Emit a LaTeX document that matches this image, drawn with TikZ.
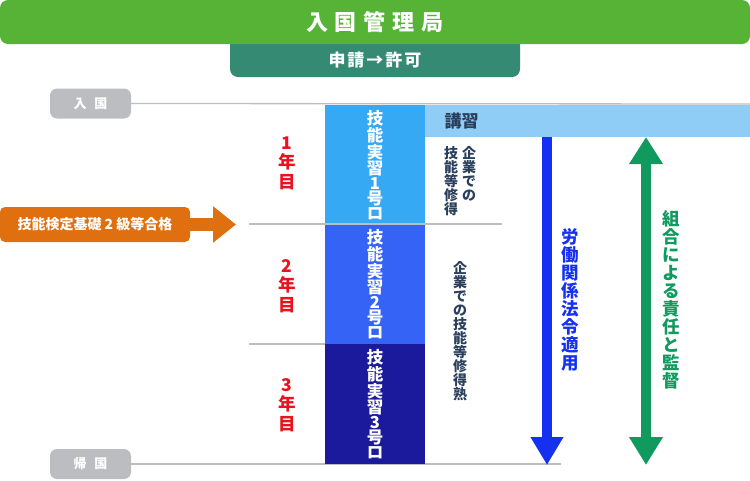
\documentclass[tikz,border=0pt]{standalone}
\usepackage{fontspec}
\setmainfont{Noto Sans CJK JP}
\usetikzlibrary{arrows.meta}
\definecolor{gbar}{HTML}{57B336}
\definecolor{teal}{HTML}{358A73}
\definecolor{pill}{HTML}{BBBDC0}
\definecolor{lc}{HTML}{BBBDC0}
\definecolor{b1}{HTML}{36A9F5}
\definecolor{b2}{HTML}{3563F5}
\definecolor{b3}{HTML}{1B1A9C}
\definecolor{kbar}{HTML}{8FCDF7}
\definecolor{navy}{HTML}{2A3F5C}
\definecolor{yr}{HTML}{E8131F}
\definecolor{blu}{HTML}{1530EE}
\definecolor{grn}{HTML}{119A5E}
\definecolor{org}{HTML}{E0700F}
\newcommand{\gsp}[1]{\hspace{#1}}
\tikzset{
  px/.style={x=1pt,y=-1pt},
  pillbox/.style={fill=pill,rounded corners=7pt,minimum width=81pt,minimum height=30pt,inner sep=0pt,text=white,font=\fontsize{13}{14}\selectfont\bfseries},
  rule/.style={draw=lc,line width=1.3pt},
  vwhite/.style={text=white,align=center,inner sep=0pt,font=\fontsize{16.5}{15}\selectfont\bfseries},
  vyear/.style={text=yr,align=center,inner sep=0pt,font=\fontsize{17.5}{19.5}\selectfont\bfseries},
  vnavy/.style={text=navy,align=center,inner sep=0pt,font=\fontsize{14}{14}\selectfont\bfseries},
  vbig/.style={align=center,inner sep=0pt,font=\fontsize{17.5}{18}\selectfont\bfseries},
}
\begin{document}
\begin{tikzpicture}[px]
\useasboundingbox (0,0) rectangle (750,480);
% teal box (under green bar)
\fill[teal,rounded corners=8pt] (230,30) rectangle (520,77);
\node[text=white,font=\fontsize{17}{18}\selectfont\bfseries] (apply) at (375,60) {申\gsp{2pt}請\gsp{2pt}→\gsp{2pt}許\gsp{2pt}可};
% green bar
\fill[gbar,rounded corners=8pt] (0,0) rectangle (750,44);
\node[text=white,font=\fontsize{22}{24}\selectfont\bfseries] (imm) at (375,22) {入\gsp{7pt}国\gsp{7pt}管\gsp{7pt}理\gsp{7pt}局};
% pills
\node[pillbox] (entry) at (90.5,103.5) {入\hspace{8pt}国};
\node[pillbox] (home) at (90.5,464) {帰\hspace{8pt}国};
% lines
\coordinate (l1e) at (750,104);
\coordinate (l2s) at (249,224); \coordinate (l2e) at (502,224);
\coordinate (l3s) at (249,344);
\coordinate (l4e) at (561,464);
\draw[rule] (entry.east) -- (l1e);
\draw[rule] (home.east) -- (l4e);
% stage boxes
\fill[b1] (325,105) rectangle (425,224);
\fill[b2] (325,224) rectangle (425,344);
\fill[b3] (325,344) rectangle (425,464);
\coordinate (b2w) at (325,344);
\draw[rule] (l2s) -- (l2e);
\draw[rule] (l3s) -- (b2w);
% kosyu bar
\fill[kbar] (425,105) rectangle (750,137);
\node[anchor=west,text=navy,font=\fontsize{17}{18}\selectfont\bfseries] (kosyu) at (441,121) {講習};
% stage texts
\node[vwhite] (s1) at (375,165) {技\\能\\実\\習\\1\\号\\ロ};
\node[vwhite] (s2) at (375,284) {技\\能\\実\\習\\2\\号\\ロ};
\node[vwhite] (s3) at (375,404) {技\\能\\実\\習\\3\\号\\ロ};
% years
\node[vyear] (y1) at (287,163) {1\\年\\目};
\node[vyear] (y2) at (287,286) {2\\年\\目};
\node[vyear] (y3) at (287,405) {3\\年\\目};
% company texts
\node[vnavy,anchor=north] (c1a) at (469,146) {企\\業\\で\\の};
\node[vnavy,anchor=north] (c1b) at (451,146) {技\\能\\等\\修\\得};
\node[vnavy] (c2) at (460,331) {企\\業\\で\\の\\技\\能\\等\\修\\得\\熟};
% blue arrow
\coordinate (bat) at (547,137);
\coordinate (bab) at (547,465);
\draw[blu,line width=10pt,-{Triangle[width=31pt,length=28pt]}] (bat) -- (bab);
\node[vbig,text=blu] (law) at (570,300) {労\\働\\関\\係\\法\\令\\適\\用};
% green arrow
\coordinate (gat) at (646,137);
\coordinate (gab) at (646,465);
\draw[grn,line width=10pt,{Triangle[width=32pt,length=27pt]}-{Triangle[width=32pt,length=28pt]}] (gat) -- (gab);
\node[vbig,text=grn] (sup) at (671,300) {組\\合\\に\\よ\\る\\責\\任\\と\\監\\督};
% orange
\node[fill=org,rounded corners=5pt,minimum width=190pt,minimum height=35pt,inner sep=0pt,text=white,font=\fontsize{14}{15}\selectfont\bfseries] (exam) at (95,224.5) {技能検定基礎 2 級等合格};
\coordinate (otip) at (236,224.5);
\draw[org,line width=13pt,-{Triangle[width=35pt,length=23pt]}] (exam.east) -- (otip);
\end{tikzpicture}
\end{document}
